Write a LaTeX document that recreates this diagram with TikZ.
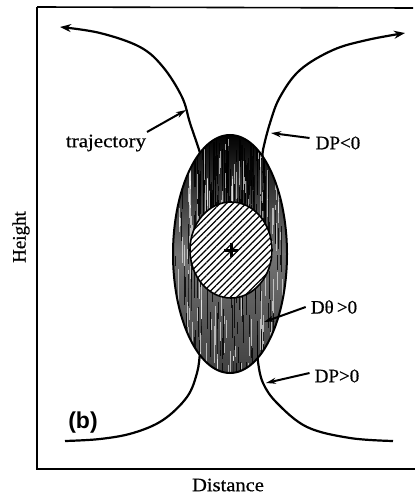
\documentclass[tikz,border=0pt]{standalone}
\usepackage{fontspec}
\setmainfont[FakeBold=0.6]{Liberation Serif}
\newfontfamily\labsans{Liberation Sans}
\usetikzlibrary{arrows.meta,patterns.meta}
\begin{document}
\begin{tikzpicture}[x=1pt,y=-1pt,
  axisline/.style={line width=2.2pt},
  traj/.style={line width=2.2pt},
  tip/.style={-{Stealth[length=11pt,width=8pt]}},
  labarrow/.style={line width=2pt,-{Stealth[length=10pt,width=6pt]}},
  lab/.style={font=\fontsize{19}{22}\selectfont, inner sep=0pt}]
\useasboundingbox (0,0) rectangle (415,495);
% frame
\draw[axisline] (37,7) -- (37,469) -- (367,469);
\draw[line width=1.2pt] (367,469) -- (415,469);
\draw[line width=1.6pt] (37,7) -- (413,8);
% trajectories (drawn first, partly hidden by the cloud)
\draw[traj,tip] plot[smooth,tension=0.6] coordinates {(200,160) (200,153) (190,123) (182,97) (163,67) (140,47) (100,33) (60,27)};
\draw[traj,tip] plot[smooth,tension=0.6] coordinates {(263,158) (263,150) (270,123) (280,97) (300,70) (333,50) (367,40) (405,33)};
\draw[traj] plot[smooth,tension=0.6] coordinates {(201,345) (200,353) (197,373) (187,397) (163,420) (133,433) (100,439) (65,441)};
\draw[traj] plot[smooth,tension=0.6] coordinates {(258,352) (258,362) (263,383) (277,403) (307,427) (350,438) (393,441)};
% cloud ellipse
\coordinate (cloud) at (230,254);
\begin{scope}
  \clip (cloud) ellipse [x radius=57, y radius=119];
  \fill[top color=black, bottom color=black!75, middle color=black!55] (170,133) rectangle (290,375);
  \pgfmathsetseed{7}
  \foreach \i in {1,...,90}{
    \pgfmathsetmacro{\xx}{195+rnd*70}
    \pgfmathsetmacro{\ya}{135+rnd*70}
    \pgfmathsetmacro{\yl}{10+rnd*40}
    \draw[black,opacity=0.85,line width=1.2pt] (\xx,\ya) -- (\xx,\ya+\yl);
  }
  \foreach \i in {1,...,170}{
    \pgfmathsetmacro{\xx}{173+rnd*114}
    \pgfmathsetmacro{\ya}{135+rnd*230}
    \pgfmathsetmacro{\yl}{6+rnd*35}
    \draw[white,opacity=0.6,line width=0.8pt] (\xx,\ya) -- (\xx,\ya+\yl);
  }
  \foreach \i in {1,...,150}{
    \pgfmathsetmacro{\xx}{173+rnd*114}
    \pgfmathsetmacro{\ya}{135+rnd*230}
    \pgfmathsetmacro{\yl}{8+rnd*40}
    \draw[black,opacity=0.8,line width=1pt] (\xx,\ya) -- (\xx,\ya+\yl);
  }
\end{scope}
\draw[line width=2pt] (cloud) ellipse [x radius=57, y radius=119];
% hatched core
\coordinate (centre) at (231,250);
\fill[white] (centre) ellipse [x radius=41, y radius=48];
\fill[pattern={Lines[angle=45,distance=4.6pt,line width=1.2pt]}] (centre) ellipse [x radius=41, y radius=48];
\draw[line width=1.6pt] (centre) ellipse [x radius=41, y radius=48];
\draw[line width=3pt] (224,250) -- (238,250) (231,243) -- (231,257);
% labels
\node[lab] (ltraj) at (106,143) {\scalebox{1.1}[1]{trajectory}};
\node[lab] (ldpneg) at (338,143) {DP<0};
\node[lab] (ldth) at (334,307) {Dθ\,>0};
\node[lab] (ldppos) at (337,376) {DP>0};
\node[lab,font=\labsans\bfseries\fontsize{23}{27}\selectfont] (lb) at (83,423) {(b)};
\node[lab] (lheight) at (21,237) [rotate=90] {Height};
\node[lab] (ldist) at (228,485) {\scalebox{1.08}[1]{Distance}};
% label arrows
\coordinate (ptraj) at (186,110);
\coordinate (pdpneg) at (271,133);
\coordinate (pdth) at (264,322);
\coordinate (pdppos) at (266,383);
\draw[labarrow] (147,132) -- (ptraj);
\draw[labarrow] (ldpneg.west) ++(-6,-5) -- (pdpneg);
\draw[labarrow] (ldth.west) ++(-5,0) -- (pdth);
\draw[labarrow] (ldppos.west) ++(-5,-3) -- (pdppos);
\end{tikzpicture}
\end{document}
